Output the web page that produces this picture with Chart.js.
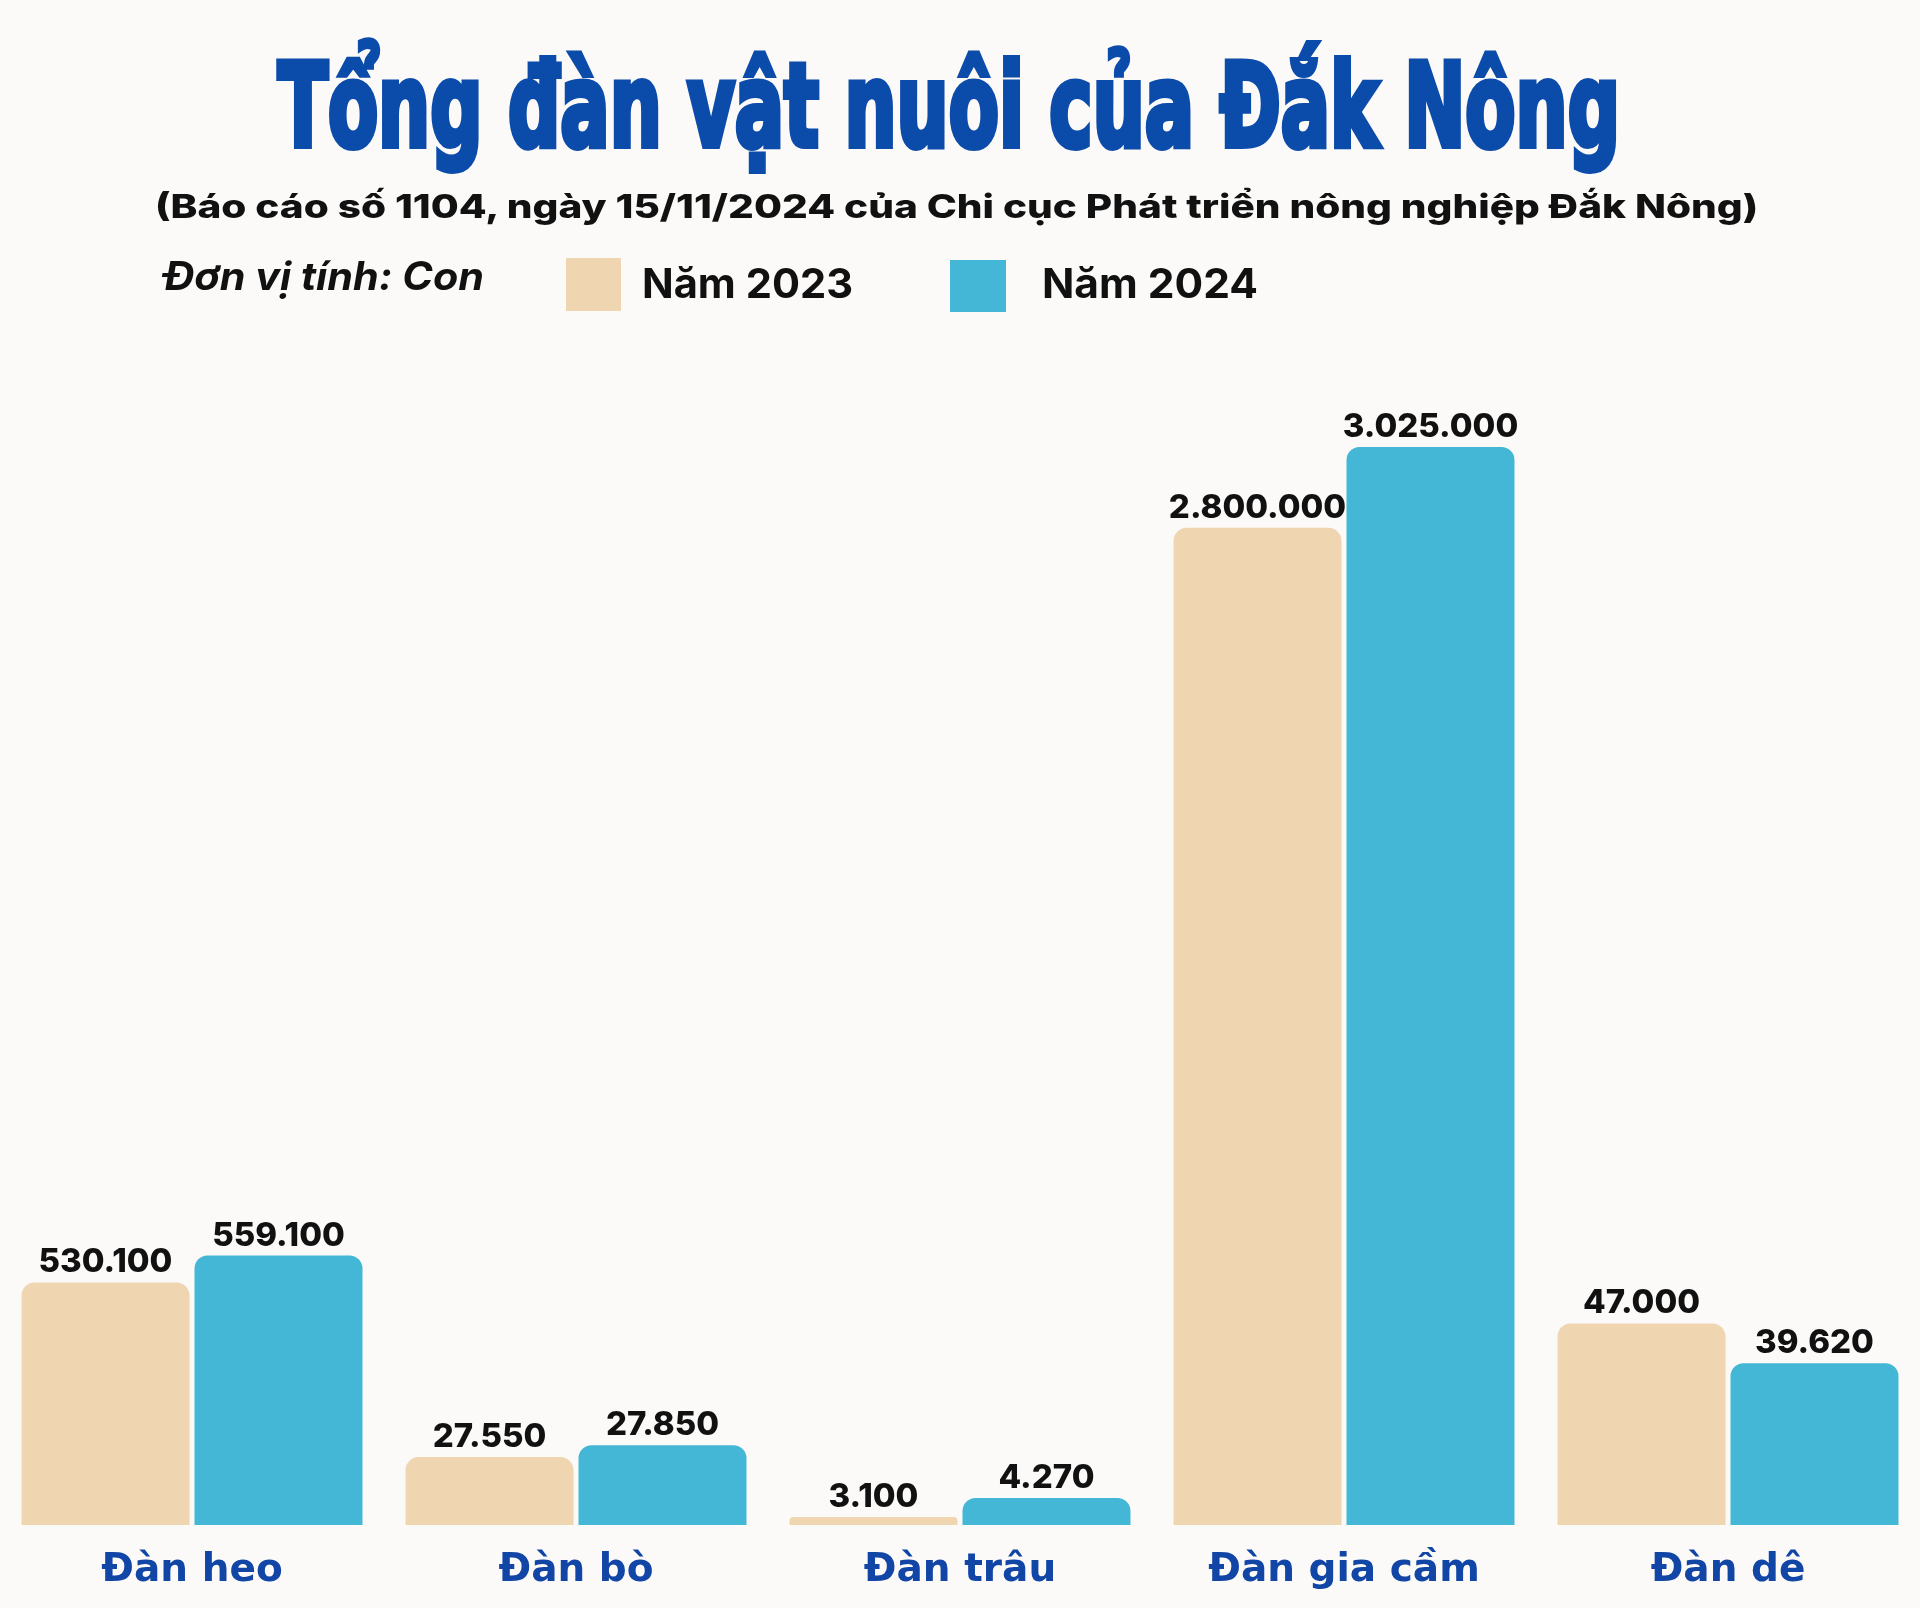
<!DOCTYPE html>
<html lang="vi">
<head>
<meta charset="utf-8">
<title>Tổng đàn vật nuôi của Đắk Nông</title>
<script src="https://cdn.jsdelivr.net/npm/chart.js@4.4.1/dist/chart.umd.min.js"></script>
<style>
    html, body { margin: 0; padding: 0; background: #FCFAF8; }
    #page { position: relative; width: 1920px; height: 1608px; overflow: hidden; }
    #chart { position: absolute; left: 0; top: 0; }
    .txt { position: absolute; white-space: nowrap; margin: 0; transform-origin: left center; }
    .box { position: absolute; }
</style>
</head>
<body>
<div id="page">
    <canvas id="chart" width="1920" height="1608"></canvas>
    <h1 class="txt" id="title"></h1>
    <p class="txt" id="subtitle"></p>
    <p class="txt" id="unit"></p>
    <div class="box" id="box2023"></div>
    <p class="txt" id="leg2023"></p>
    <div class="box" id="box2024"></div>
    <p class="txt" id="leg2024"></p>
</div>
<script>
/* 1. Dữ liệu */
const categories = ['Đàn heo', 'Đàn bò', 'Đàn trâu', 'Đàn gia cầm', 'Đàn dê'];
const seriesNames = ['Năm 2023', 'Năm 2024'];

// số liệu in trên cột (con)
const value2023 = [530100, 27550, 3100, 2800000, 47000];
const value2024 = [559100, 27850, 4270, 3025000, 39620];

// chiều cao cột như trên ảnh gốc (không theo tỉ lệ), cột cao nhất = 100
const drawn2023 = [22.5, 6.3, 0.74, 92.5, 18.7];
const drawn2024 = [25.0, 7.4, 2.5, 100, 15.0];

const COLOR_2023 = '#F0D5B1';
const COLOR_2024 = '#43B7D5';

/* 2. Tiêu đề, chú thích (HTML) - đặt theo đường baseline */
const measureCtx = document.createElement('canvas').getContext('2d');

function place(id, text, font, left, width, baseline, color) {
    const el = document.getElementById(id);
    measureCtx.font = font;
    const m = measureCtx.measureText(text);
    const asc = m.fontBoundingBoxAscent;
    const desc = m.fontBoundingBoxDescent;
    el.textContent = text;
    el.style.font = font;
    el.style.lineHeight = (asc + desc) + 'px';
    el.style.top = (baseline - asc) + 'px';
    el.style.left = left + 'px';
    el.style.color = color;
    el.style.transform = 'scaleX(' + (width / m.width) + ')';
    return el;
}

function box(id, x1, y1, x2, y2, color) {
    const el = document.getElementById(id);
    el.style.left = x1 + 'px';
    el.style.top = y1 + 'px';
    el.style.width = (x2 - x1) + 'px';
    el.style.height = (y2 - y1) + 'px';
    el.style.background = color;
}

const title = place('title', 'Tổng đàn vật nuôi của Đắk Nông',
    "bold 116px 'Liberation Sans Narrow', 'DejaVu Sans Condensed', sans-serif", 278, 1342, 146, '#0B4BAA');
title.style.webkitTextStroke = '6px #0B4BAA';

place('subtitle', '(Báo cáo số 1104, ngày 15/11/2024 của Chi cục Phát triển nông nghiệp Đắk Nông)',
    "800 33px Inter, sans-serif", 155, 1605, 218, '#111');
place('unit', 'Đơn vị tính: Con', "italic 700 39px Inter, sans-serif", 163, 321, 290, '#111');

box('box2023', 566, 258, 621, 311, COLOR_2023);
place('leg2023', seriesNames[0], "700 41px Inter, sans-serif", 642, 211, 298, '#111');
box('box2024', 950, 260, 1006, 312, COLOR_2024);
place('leg2024', seriesNames[1], "700 41px Inter, sans-serif", 1042, 216, 298, '#111');

/* 3. Nhãn số trên đầu cột */
function formatVN(n) {
    return String(n).replace(/\B(?=(\d{3})+(?!\d))/g, '.');
}

const valueLabels = {
    id: 'valueLabels',
    afterDatasetsDraw(chart) {
        const ctx = chart.ctx;
        ctx.save();
        ctx.font = "800 33px Inter, sans-serif";
        ctx.fillStyle = '#111';
        ctx.textAlign = 'center';
        ctx.textBaseline = 'alphabetic';
        chart.data.datasets.forEach((ds, i) => {
            const meta = chart.getDatasetMeta(i);
            meta.data.forEach((bar, j) => {
                ctx.fillText(formatVN(ds.printed[j]), bar.x, bar.y - 10);
            });
        });
        ctx.restore();
    }
};

/* 4. Biểu đồ cột */
const ctx = document.getElementById('chart').getContext('2d');

new Chart(ctx, {
    type: 'bar',
    data: {
        labels: categories,
        datasets: [
            {
                label: seriesNames[0],
                data: drawn2023,
                printed: value2023,
                backgroundColor: COLOR_2023,
                borderRadius: { topLeft: 13, topRight: 13, bottomLeft: 0, bottomRight: 0 },
                borderSkipped: 'bottom'
            },
            {
                label: seriesNames[1],
                data: drawn2024,
                printed: value2024,
                backgroundColor: COLOR_2024,
                borderRadius: { topLeft: 13, topRight: 13, bottomLeft: 0, bottomRight: 0 },
                borderSkipped: 'bottom'
            }
        ]
    },
    options: {
        responsive: false,
        animation: false,
        devicePixelRatio: 1,
        categoryPercentage: 0.901,
        barPercentage: 0.971,
        layout: { padding: { top: 447, left: 0, right: 0, bottom: 0 } },
        plugins: {
            legend: { display: false },
            tooltip: { enabled: false }
        },
        scales: {
            x: {
                grid: { display: false, drawTicks: false },
                border: { display: false },
                ticks: {
                    color: '#1146A6',
                    font: { family: 'DejaVu Sans', size: 39, weight: 'bold' },
                    padding: 22,
                    maxRotation: 0
                },
                afterFit(scale) { scale.height = 83; }
            },
            y: {
                display: false,
                min: 0,
                max: 100
            }
        }
    },
    plugins: [valueLabels]
});
</script>
</body>
</html>
